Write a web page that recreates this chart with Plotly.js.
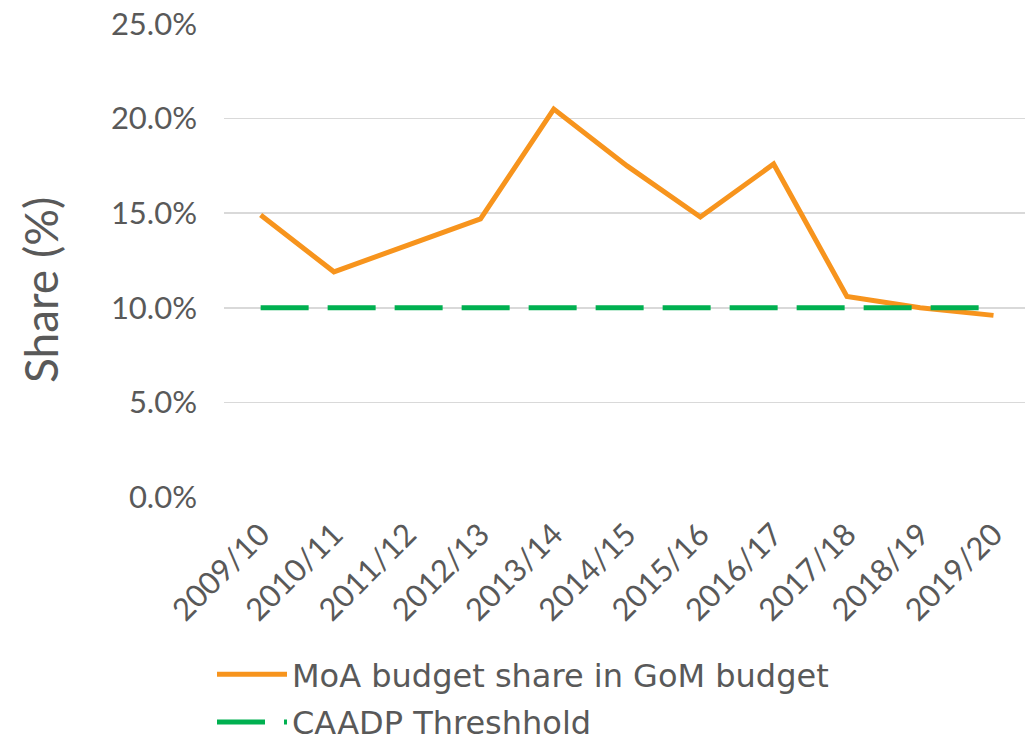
<!DOCTYPE html>
<html><head><meta charset="utf-8">
<script src="https://cdn.plot.ly/plotly-3.0.1.min.js"></script>
<style>html,body{margin:0;padding:0;background:#fff}#chart{width:1025px;height:743px}</style>
</head><body><div id="chart"></div>
<script>
const years = ["2009/10","2010/11","2011/12","2012/13","2013/14","2014/15","2015/16","2016/17","2017/18","2018/19","2019/20"];
const moaShare = [0.149,0.119,0.133,0.147,0.205,0.175,0.148,0.176,0.106,0.100,0.096];
const caadp = [0.10,0.10,0.10,0.10,0.10,0.10,0.10,0.10,0.10,0.10,0.10];
const seriesNames = ["MoA budget share in GoM budget","CAADP Threshhold"];
const yTitle = "Share (%)";

const font = "Lato, 'Open Sans', sans-serif";
const legendFont = "'DejaVu Sans', Lato, sans-serif";
const data = [
  {x: years, y: moaShare, name: seriesNames[0], legendgroup: "a", type: "scatter", mode: "lines",
   line: {color: "#F7941D", width: 5}},
  {x: years, y: caadp, name: seriesNames[1], legendgroup: "b", type: "scatter", mode: "lines",
   line: {color: "#00B050", width: 5, dash: "48px,19px"}}
];
const layout = {
  width: 1025, height: 743,
  margin: {l: 224, r: 0, t: 24, b: 246, autoexpand: false},
  paper_bgcolor: "#fff", plot_bgcolor: "#fff",
  font: {family: font, color: "#595959"},
  showlegend: true,
  legend: {orientation: "v", xref: "container", yref: "container",
           x: 212/1025, xanchor: "left", y: 1 - 647/743, yanchor: "top",
           bgcolor: "rgba(0,0,0,0)",
           font: {size: 32, color: "#595959", family: legendFont}, itemwidth: 70, tracegroupgap: 3},
  xaxis: {type: "category", range: [-0.5, 10.43], showgrid: false, zeroline: false, automargin: false,
          showline: false, ticks: "", tickangle: -45, ticklabelstandoff: 12,
          tickfont: {size: 31, color: "#595959", family: font}},
  yaxis: {range: [0, 0.25], dtick: 0.05, tickformat: ".1%", showgrid: true, automargin: false,
          gridcolor: "#D9D9D9", gridwidth: 1.5, zeroline: false, showline: false,
          ticks: "", ticklabelstandoff: 26, tickfont: {size: 31, color: "#595959", family: font}},
  annotations: [{text: yTitle, xref: "paper", yref: "paper", x: -0.2297, y: 0.4376,
                 xanchor: "center", yanchor: "middle", textangle: -90, showarrow: false,
                 font: {size: 46, color: "#595959", family: font}}]
};
Plotly.newPlot("chart", data, layout, {displayModeBar: false, staticPlot: true});
</script></body></html>
